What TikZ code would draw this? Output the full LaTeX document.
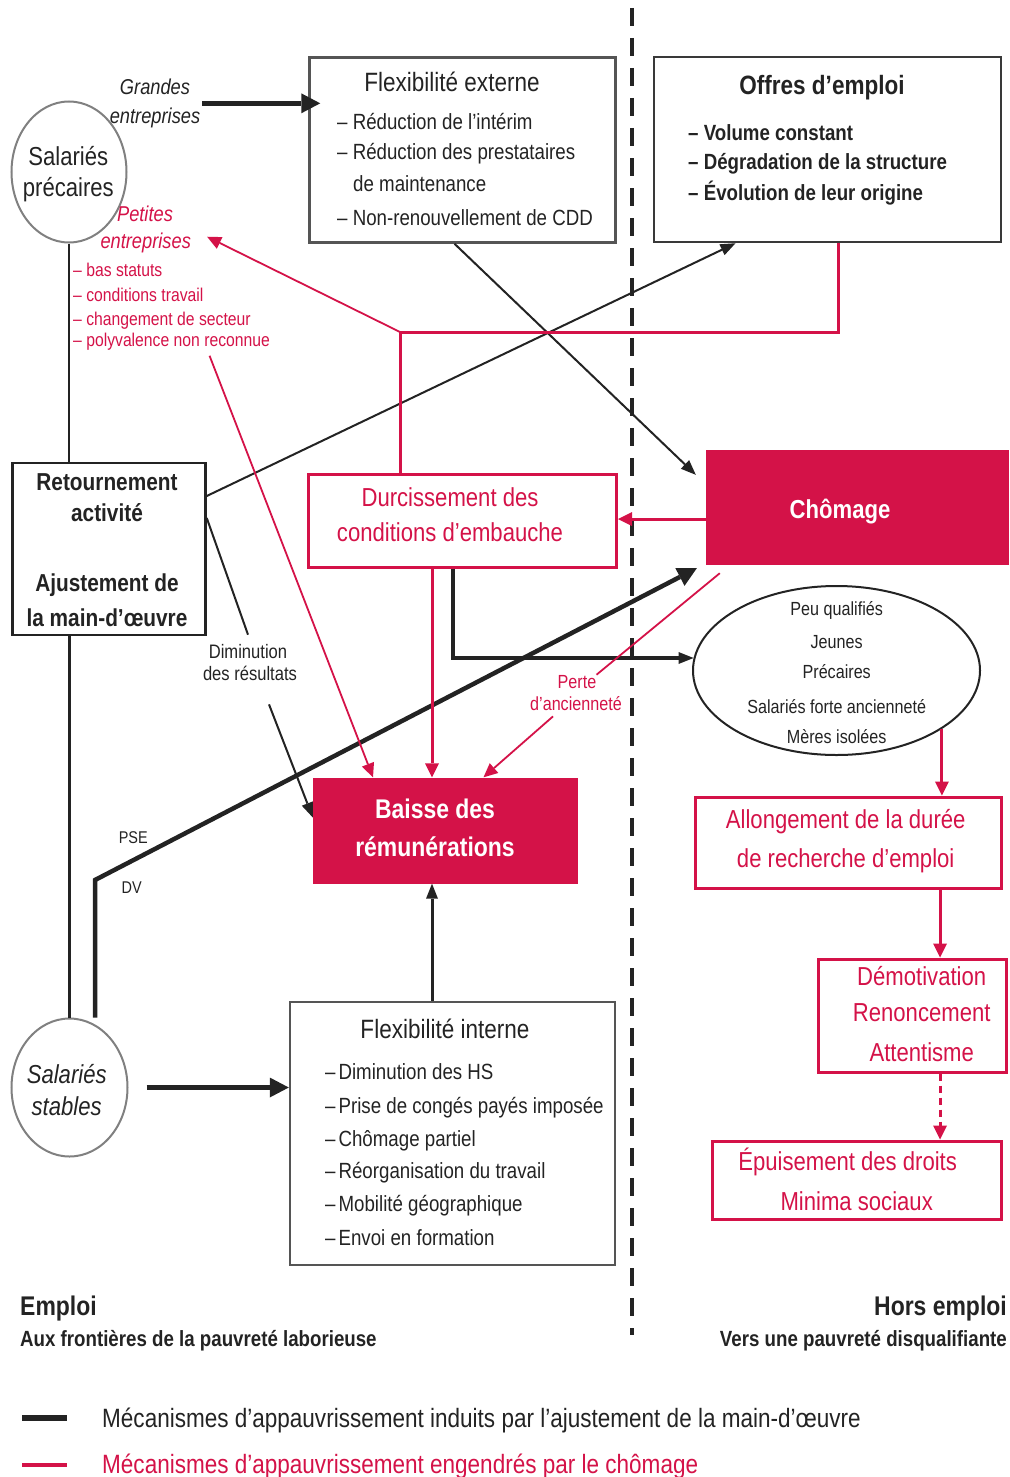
\documentclass[tikz,border=0pt]{standalone}
\usepackage{fontspec}
\setmainfont{Liberation Sans}[FakeStretch=0.85]
\usetikzlibrary{arrows.meta,shapes.geometric}
\definecolor{crimson}{RGB}{212,18,72}
\definecolor{boxgray}{RGB}{85,85,85}
\definecolor{ink}{RGB}{35,35,35}
\newcommand\fsz[1]{\fontsize{#1}{#1}\selectfont}

\begin{document}
\begin{tikzpicture}[x=1pt, y=-1pt,
  grbox/.style={draw=boxgray, line width=2.5pt, inner sep=0pt},
  rdbox/.style={draw=crimson, line width=3pt, inner sep=0pt},
  fullbox/.style={fill=crimson, inner sep=0pt},
  oval/.style={ellipse, draw=boxgray, line width=2pt, inner sep=0pt},
  lbl/.style={inner sep=0pt, anchor=base, text=ink},
  itm/.style={inner sep=0pt, anchor=base west, text=ink, font=\fsz{22}},
  rlbl/.style={inner sep=0pt, anchor=base, text=crimson, font=\fsz{26}},
  wlbl/.style={inner sep=0pt, anchor=base, text=white, font=\bfseries\fsz{27}},
  blk/.style={draw=ink, line width=2pt},
  blkarr/.style={blk, -{Triangle[length=15pt,width=12pt,line width=0pt]}},
  fatarr/.style={draw=ink, line width=4.5pt, -{Triangle[length=19pt,width=20pt,line width=0pt]}},
  rd/.style={draw=crimson, line width=3pt},
  rdarr/.style={rd, -{Triangle[length=14pt,width=14pt,line width=0pt]}},
  rdthin/.style={draw=crimson, line width=1.8pt},
  rdthinarr/.style={rdthin, -{Triangle[length=14pt,width=13pt,line width=0pt]}}]
  \useasboundingbox (0,0) rectangle (1009,1477);

  % separation emploi / hors emploi
  \draw[ink, line width=4pt, dash pattern=on 18pt off 12pt] (632,8) -- (632,1335);

  % boxes and ovals
  \node[grbox, minimum width=306pt, minimum height=185pt] (flexext) at (462.5,150) {};
  \node[grbox, draw=ink!90, minimum width=347pt, minimum height=185pt] (offres) at (827.5,149.5) {};
  \node[grbox, draw=ink, minimum width=193pt, minimum height=172pt] (retour) at (109,549) {};
  \node[rdbox, minimum width=308pt, minimum height=93pt] (durc) at (462.5,520.5) {};
  \node[fullbox, minimum width=303pt, minimum height=115pt] (chomage) at (857.5,507.5) {};
  \node[fullbox, minimum width=265pt, minimum height=106pt] (baisse) at (445.5,830.5) {};
  \node[grbox, minimum width=325pt, minimum height=263pt] (flexint) at (452.5,1133.5) {};
  \node[rdbox, minimum width=306pt, minimum height=91pt] (allong) at (848,842.5) {};
  \node[rdbox, minimum width=188pt, minimum height=113pt] (demot) at (912,1015.5) {};
  \node[rdbox, minimum width=289pt, minimum height=78pt] (epuis) at (857,1180) {};
  \node[oval, draw=gray, minimum width=115pt, minimum height=141pt] (precaires) at (69,172) {};
  \node[oval, draw=gray, minimum width=116pt, minimum height=138pt] (stables) at (69.5,1087.5) {};
  \node[oval, draw=ink, minimum width=287pt, minimum height=169pt] (groupes) at (836.5,670.5) {};

  % texts
  \node[lbl, font=\fsz{26.5}] (fet) at (452,91.7) {Flexibilité externe};
  \foreach \txt/\yy [count=\i] in {Réduction de l'intérim/129, Réduction des prestataires/160,
      Non-renouvellement de CDD/225}
    \node[itm] (fe\i) at (337,\yy) {– \txt};
  \node[itm] (fe4) at (353,191.7) {de maintenance};

  \node[lbl, font=\bfseries\fsz{26.5}] (oft) at (822,95) {Offres d'emploi};
  \foreach \txt/\yy [count=\i] in {Volume constant/141, Dégradation de la structure/169.5,
      Évolution de leur origine/200}
    \node[itm, font=\bfseries\fsz{22}] (of\i) at (688,\yy) {– \txt};

  \node[lbl, font=\fsz{26}] (pr1) at (68.3,165) {Salariés};
  \node[lbl, font=\fsz{26}] (pr2) at (68.3,196.7) {précaires};
  \node[lbl, font=\itshape\fsz{21.5}] (grandes1) at (155,95) {Grandes};
  \node[lbl, font=\itshape\fsz{21.5}] (grandes2) at (155,123.3) {entreprises};
  \node[lbl, text=crimson, font=\itshape\fsz{21.5}] (petites1) at (145,221.7) {Petites};
  \node[lbl, text=crimson, font=\itshape\fsz{21.5}] (petites2) at (145.7,248.3) {entreprises};
  \foreach \txt/\yy [count=\i] in {bas statuts/276.7, conditions travail/301.7,
      changement de secteur/325, polyvalence non reconnue/346.7}
    \node[itm, text=crimson, font=\fsz{18.5}] (rl\i) at (73,\yy) {– \txt};

  \foreach \txt/\yy [count=\i] in {Retournement/490, activité/521.7,
      Ajustement de/591.7, la main-d'œuvre/626.7}
    \node[lbl, font=\bfseries\fsz{24.5}] (re\i) at (107,\yy) {\txt};
  \node[lbl, font=\fsz{19.5}] (dimin1) at (248,658) {Diminution};
  \node[lbl, font=\fsz{19.5}] (dimin2) at (250,680) {des résultats};

  \node[rlbl] (du1) at (450,506.7) {Durcissement des};
  \node[rlbl] (du2) at (450,541.7) {conditions d'embauche};
  \node[wlbl, font=\bfseries\fsz{26}] (ch1) at (840,518) {Chômage};
  \foreach \txt/\yy [count=\i] in {Peu qualifiés/615, Jeunes/648.3, Précaires/678.3,
      Salariés forte ancienneté/713.3, Mères isolées/743.3}
    \node[lbl, font=\fsz{19}] (gr\i) at (836.7,\yy) {\txt};
  \node[lbl, text=crimson, font=\fsz{19}] (perte1) at (577,688) {Perte};
  \node[lbl, text=crimson, font=\fsz{19}] (perte2) at (576,710) {d'ancienneté};
  \node[wlbl] (ba1) at (435,818) {Baisse des};
  \node[wlbl] (ba2) at (435,856.7) {rémunérations};
  \node[lbl, font=\fsz{17}] (pse) at (133.3,843.3) {PSE};
  \node[lbl, font=\fsz{17}] (dv) at (131.7,893.3) {DV};

  \node[rlbl] (al1) at (845.7,828.3) {Allongement de la durée};
  \node[rlbl] (al2) at (845.7,867.3) {de recherche d'emploi};
  \foreach \txt/\yy [count=\i] in {Démotivation/985, Renoncement/1021.7, Attentisme/1061.7}
    \node[rlbl] (de\i) at (921.7,\yy) {\txt};
  \node[rlbl] (ep1) at (847.6,1170) {Épuisement des droits};
  \node[rlbl] (ep2) at (856.7,1210) {Minima sociaux};

  \node[lbl, font=\fsz{26.5}] (fit) at (445,1038.3) {Flexibilité interne};
  \foreach \txt/\yy [count=\i] in {Diminution des HS/1079.3, Prise de congés payés imposée/1113.3,
      Chômage partiel/1146.7, Réorganisation du travail/1178.3,
      Mobilité géographique/1211.7, Envoi en formation/1245}
    \node[itm] (fi\i) at (325,\yy) {–\hspace{3pt}\txt};
  \node[lbl, font=\itshape\fsz{26}] (st1) at (66.7,1083.3) {Salariés};
  \node[lbl, font=\itshape\fsz{26}] (st2) at (66.7,1115) {stables};

  \node[lbl, anchor=base west, font=\bfseries\fsz{27}] (emploi) at (20,1315) {Emploi};
  \node[lbl, anchor=base west, font=\bfseries\fsz{22}] (emploi2) at (20,1346) {Aux frontières de la pauvreté laborieuse};
  \node[lbl, anchor=base east, font=\bfseries\fsz{27}] (hors) at (1007,1315) {Hors emploi};
  \node[lbl, anchor=base east, font=\bfseries\fsz{22}] (hors2) at (1007,1346) {Vers une pauvreté disqualifiante};

  % legend
  \coordinate (lgA) at (22,1418);
  \coordinate (lgB) at (22,1465);
  \draw[ink, line width=6pt] (lgA) -- ++(45,0);
  \draw[crimson, line width=4pt] (lgB) -- ++(45,0);
  \node[lbl, anchor=base west, font=\fsz{26.5}] (lg1) at (102,1427) {Mécanismes d'appauvrissement induits par l'ajustement de la main-d'œuvre};
  \node[lbl, anchor=base west, text=crimson, font=\fsz{26.5}] (lg2) at (102,1473) {Mécanismes d'appauvrissement engendrés par le chômage};

  % black connectors
  \draw[fatarr] ([shift={(12pt,-16pt)}]grandes1.east) -- ([shift={(12pt,-16pt)}]grandes1.east -| flexext.west);
  \draw[blk, line width=2.5pt] (precaires.south) -- (precaires.south |- retour.north);
  \draw[blk, line width=2.5pt] (stables.north) -- (stables.north |- retour.south);
  \draw[fatarr] ([xshift=18pt]stables.east) -- (flexint.west |- stables.east);
  \draw[blkarr] ([yshift=53pt]retour.east) -- ([xshift=-92pt]offres.south);
  \draw[blkarr] ([xshift=-8pt]flexext.south) -- ([shift={(-10pt,-25pt)}]chomage.north west);
  \draw[blk] ([yshift=31pt]retour.east) -- ([yshift=9pt]dimin1.north);
  \draw[blkarr] ([shift={(19pt,-24pt)}]dimin2.south) -- ([yshift=13pt]baisse.west);
  \draw[blkarr, line width=3.5pt] ([xshift=-9.5pt]durc.south) |- (groupes.175);
  \coordinate (coude) at (95,880);
  \draw[fatarr] (stables.north -| coude) -- (coude) -- ([shift={(-9pt,-3pt)}]chomage.south west);
  \draw[blkarr, line width=3pt] ([xshift=-20.5pt]flexint.north) -- ([xshift=-20.5pt]flexint.north |- baisse.south);

  % red connectors
  \coordinate (rjoint) at (400,332);
  \draw[rd] ([xshift=10.5pt]offres.south) |- (rjoint) -- (rjoint |- durc.north);
  \draw[rdthinarr] (rjoint) -- ([shift={(16pt,6pt)}]petites2.east);
  \draw[rdarr] ([yshift=-11.5pt]chomage.west) -- ([yshift=-11.5pt]chomage.west -| durc.east);
  \draw[rdarr] ([xshift=-30.5pt]durc.south) -- ([xshift=-30.5pt]durc.south |- baisse.north);
  \draw[rdthin] ([shift={(14pt,-8pt)}]chomage.south west) -- (perte1.north east);
  \draw[rdthinarr] ([shift={(-23pt,-6pt)}]perte2.south) -- ([xshift=38pt]baisse.north);
  \draw[rdthinarr] ([shift={(38pt,-5pt)}]rl4.south) -- ([xshift=-72.5pt]baisse.north);
  \draw[rdarr] (groupes.-29.5) -- (groupes.-29.5 |- allong.north);
  \draw[rdarr] ([xshift=28pt]demot.north |- allong.south) -- ([xshift=28pt]demot.north);
  \draw[rdarr, dash pattern=on 7pt off 5pt] ([xshift=28pt]demot.south) -- ([xshift=28pt]demot.south |- epuis.north);
\end{tikzpicture}
\end{document}
